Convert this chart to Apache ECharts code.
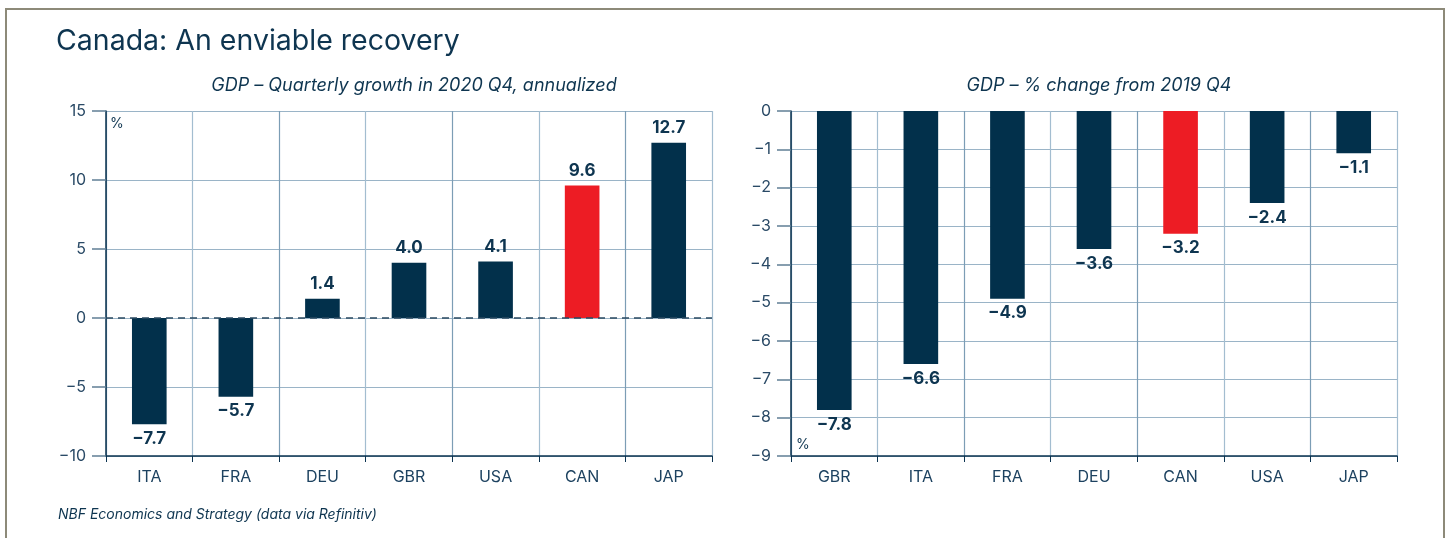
<!DOCTYPE html>
<html>
<head>
<meta charset="utf-8">
<script src="https://cdn.jsdelivr.net/npm/echarts@6/dist/echarts.min.js"></script>
<style>
  html, body { margin: 0; padding: 0; background: #fff; }
  #chart { width: 1449px; height: 538px; }
</style>
</head>
<body>
<div id="chart"></div>
<script>
// left panel: quarterly growth 2020 Q4, annualized
var growthCats = ['ITA', 'FRA', 'DEU', 'GBR', 'USA', 'CAN', 'JAP'];
var growthVals = [-7.7, -5.7, 1.4, 4.0, 4.1, 9.6, 12.7];

// right panel: % change from 2019 Q4
var changeCats = ['GBR', 'ITA', 'FRA', 'DEU', 'CAN', 'USA', 'JAP'];
var changeVals = [-7.8, -6.6, -4.9, -3.6, -3.2, -2.4, -1.1];

var navy = '#02304b';
var red = '#ed1c24';
var gridColor = '#9ab4c7';
var font = 'Inter, Lato, sans-serif';

// 把数据转成带颜色和标签位置的项
function toItems(cats, vals) {
    return vals.map(function (v, i) {
        return {
            value: v,
            itemStyle: { color: cats[i] === 'CAN' ? red : navy },
            label: { position: v < 0 ? 'bottom' : 'top' }
        };
    });
}

function xAxisOf(cats, gi) {
    return {
        type: 'category',
        gridIndex: gi,
        data: cats,
        axisLine: { onZero: false, lineStyle: { color: '#0b3350', width: 1.5 } },
        axisTick: { show: true, length: 6, lineStyle: { color: '#0b3350' } },
        axisLabel: { color: '#1d4260', fontSize: 16, margin: 13, fontFamily: font },
        splitLine: { show: true, lineStyle: { color: ['#7c9db5', '#a3bdd0'], width: 1.2 } }
    };
}

function yAxisOf(min, max, step, gi) {
    return {
        type: 'value',
        gridIndex: gi,
        min: min,
        max: max,
        interval: step,
        axisLine: { show: true, lineStyle: { color: '#0b3350', width: 1.5 } },
        axisTick: { show: true, length: 14, lineStyle: { color: '#607f95', width: 1.5 } },
        axisLabel: {
            color: '#2a4a66', fontSize: 16, margin: 20, fontFamily: font,
            formatter: function (v) { return v < 0 ? '\u2212' + Math.abs(v) : String(v); }
        },
        splitLine: { show: true, lineStyle: { color: gridColor, width: 1.2 } }
    };
}

var labelStyle = {
    show: true,
    color: '#0e3550',
    fontSize: 17,
    fontWeight: 'bold',
    fontFamily: font,
    distance: 6,
    formatter: function (p) {
        var v = p.value;
        return (v < 0 ? '\u2212' : '') + Math.abs(v).toFixed(1);
    }
};

var chart = echarts.init(document.getElementById('chart'));

var option = {
    backgroundColor: '#fff',
    animation: false,
    title: [
        {
            text: 'Canada: An enviable recovery',
            left: 51, top: 22,
            textStyle: { color: '#0e3550', fontSize: 28.5, fontWeight: 'normal', fontFamily: font }
        },
        {
            text: 'GDP \u2013 Quarterly growth in 2020 Q4, annualized',
            left: 409, top: 72, textAlign: 'center',
            textStyle: { color: '#0e3550', fontSize: 18, fontStyle: 'italic', fontWeight: 'normal', fontFamily: font }
        },
        {
            text: 'GDP \u2013 % change from 2019 Q4',
            left: 1094, top: 72, textAlign: 'center',
            textStyle: { color: '#0e3550', fontSize: 18, fontStyle: 'italic', fontWeight: 'normal', fontFamily: font }
        },
        {
            text: 'NBF Economics and Strategy (data via Refinitiv)',
            left: 53, top: 503,
            textStyle: { color: '#0e3550', fontSize: 14, fontStyle: 'italic', fontWeight: 'normal', fontFamily: font }
        }
    ],
    graphic: [
        {
            type: 'rect', silent: true, z: -1,
            shape: { x: 6, y: 9, width: 1438, height: 560 },
            style: { fill: 'none', stroke: '#8d8a79', lineWidth: 2 }
        },
        {
            type: 'text', left: 110, top: 117,
            style: { text: '%', fill: '#0e3550', fontSize: 14, fontFamily: font }
        },
        {
            type: 'text', left: 796, top: 438,
            style: { text: '%', fill: '#0e3550', fontSize: 14, fontFamily: font }
        }
    ],
    grid: [
        { left: 106, top: 111, width: 606, height: 345 },
        { left: 791, top: 111, width: 606, height: 345 }
    ],
    xAxis: [xAxisOf(growthCats, 0), xAxisOf(changeCats, 1)],
    yAxis: [yAxisOf(-10, 15, 5, 0), yAxisOf(-9, 0, 1, 1)],
    series: [
        {
            type: 'bar',
            xAxisIndex: 0, yAxisIndex: 0,
            barWidth: '40%',
            data: toItems(growthCats, growthVals),
            label: labelStyle,
            markLine: {
                silent: true,
                symbol: 'none',
                label: { show: false },
                lineStyle: { color: '#2b4a62', type: [7, 5], width: 1.5 },
                data: [{ yAxis: 0 }]
            }
        },
        {
            type: 'bar',
            xAxisIndex: 1, yAxisIndex: 1,
            barWidth: '40%',
            data: toItems(changeCats, changeVals),
            label: labelStyle
        }
    ]
};

chart.setOption(option);
</script>
</body>
</html>
